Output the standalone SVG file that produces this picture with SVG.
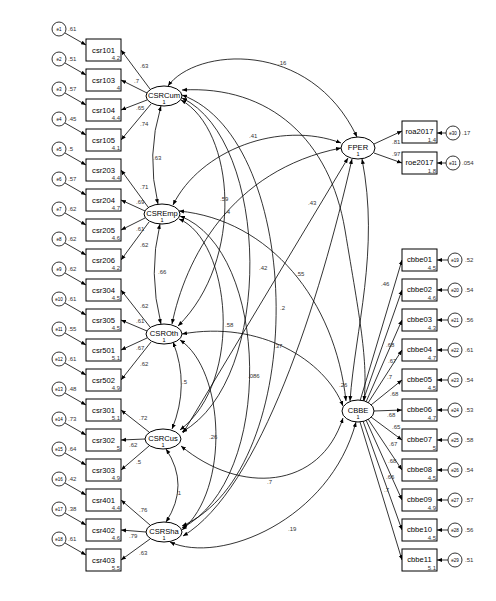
<svg xmlns="http://www.w3.org/2000/svg" width="496" height="601" viewBox="0 0 496 601">
<defs>
<marker id="ah" viewBox="0 0 10 10" refX="10" refY="5" markerWidth="5" markerHeight="5" orient="auto-start-reverse" markerUnits="userSpaceOnUse"><path d="M0,1 L10,5 L0,9 z" fill="#000"/></marker>
</defs>
<style>
.box{fill:#fff;stroke:#000;stroke-width:1}
.lat{fill:#fff;stroke:#000;stroke-width:1}
.err{fill:#fff;stroke:#000;stroke-width:0.8}
.nm{font-family:"Liberation Sans",Arial,sans-serif;font-size:7.6px;fill:#000;text-anchor:middle}
.mn{font-family:"Liberation Sans",Arial,sans-serif;font-size:6px;fill:#333;text-anchor:end}
.lb{font-family:"Liberation Sans",Arial,sans-serif;font-size:6px;fill:#333}
.es{font-family:"Liberation Sans",Arial,sans-serif;font-size:4.5px;fill:#000;text-anchor:middle}
.ln{fill:none;stroke:#000;stroke-width:0.8;marker-end:url(#ah)}
.cv{fill:none;stroke:#000;stroke-width:0.8;marker-start:url(#ah);marker-end:url(#ah)}
</style>
<rect width="496" height="601" fill="#fff"/>
<g id="connectors">
<path class="ln" d="M65,33 L86,45"/><path class="ln" d="M65,63 L86,75"/><path class="ln" d="M65,93 L86,105"/><path class="ln" d="M65,123 L86,135"/>
<path class="ln" d="M65,153 L86,165"/><path class="ln" d="M65,183 L86,195"/><path class="ln" d="M65,213 L86,225"/><path class="ln" d="M65,243 L86,255"/>
<path class="ln" d="M65,273 L86,285"/><path class="ln" d="M65,303 L86,315"/><path class="ln" d="M65,333 L86,345"/><path class="ln" d="M65,363 L86,375"/>
<path class="ln" d="M65,393 L86,405"/><path class="ln" d="M65,423 L86,435"/><path class="ln" d="M65,453 L86,465"/><path class="ln" d="M65,483 L86,495"/>
<path class="ln" d="M65,513 L86,525"/><path class="ln" d="M65,543 L86,555"/>
<path class="ln" d="M150,89 L121,50"/><path class="ln" d="M147,93 L121,80"/><path class="ln" d="M147,100 L121,110"/><path class="ln" d="M151,104 L121,140"/>
<path class="ln" d="M148,207 L121,170"/><path class="ln" d="M145,211 L121,200"/><path class="ln" d="M145,218 L121,230"/><path class="ln" d="M149,222 L121,260"/>
<path class="ln" d="M150,327 L121,290"/><path class="ln" d="M147,331 L121,320"/><path class="ln" d="M147,338 L121,350"/><path class="ln" d="M151,342 L121,380"/>
<path class="ln" d="M149,432 L121,410"/><path class="ln" d="M145,439 L121,440"/><path class="ln" d="M149,446 L121,470"/>
<path class="ln" d="M150,525 L121,500"/><path class="ln" d="M146,532 L121,530"/><path class="ln" d="M150,539 L121,560"/>
<path class="ln" d="M374,144 L402,131"/><path class="ln" d="M374,153 L402,163"/>
<path class="ln" d="M446,133 L437,133"/><path class="ln" d="M446,163 L437,163"/>
<path class="ln" d="M360,401 L402,260"/><path class="ln" d="M363,401 L402,290"/><path class="ln" d="M366,402 L402,320"/><path class="ln" d="M368,403 L402,350"/><path class="ln" d="M371,405 L402,380"/>
<path class="ln" d="M374,411 L402,410"/>
<path class="ln" d="M371,417 L402,440"/><path class="ln" d="M368,419 L402,470"/><path class="ln" d="M366,420 L402,500"/><path class="ln" d="M363,421 L402,530"/><path class="ln" d="M360,422 L402,560"/>
<path class="ln" d="M448,260 L437,260"/><path class="ln" d="M448,290 L437,290"/><path class="ln" d="M448,320 L437,320"/><path class="ln" d="M448,350 L437,350"/><path class="ln" d="M448,380 L437,380"/><path class="ln" d="M448,410 L437,410"/>
<path class="ln" d="M448,440 L437,440"/><path class="ln" d="M448,470 L437,470"/><path class="ln" d="M448,500 L437,500"/><path class="ln" d="M448,530 L437,530"/><path class="ln" d="M448,560 L437,560"/>
<!-- covariances among CSR factors -->
<path class="cv" d="M161,106 Q146,155 158,204"/>
<path class="cv" d="M160,224 Q148,273 161,324"/>
<path class="cv" d="M173,342 Q190,385 172,429"/>
<path class="cv" d="M166,449 Q190,485 166,522"/>
<path class="cv" d="M181,100 C235,130 245,260 178,326"/>
<path class="cv" d="M182,98 C270,140 275,380 182,432"/>
<path class="cv" d="M182,95 C305,140 310,470 182,526"/>
<path class="cv" d="M179,219 C230,240 245,380 180,430"/>
<path class="cv" d="M180,216 C270,250 275,480 182,528"/>
<path class="cv" d="M180,340 C225,370 230,490 182,530"/>
<!-- with FPER -->
<path class="cv" d="M168,86 C195,48 310,38 357,137"/>
<path class="cv" d="M173,205 C200,150 280,120 341,143"/>
<path class="cv" d="M172,324 C185,260 230,170 341,148"/>
<path class="cv" d="M183,433 L348,158"/>
<path class="cv" d="M183,536 C260,490 320,300 352,159"/>
<path class="cv" d="M362,159 C380,250 355,330 350,401"/>
<!-- with CBBE -->
<path class="cv" d="M182,90 C270,85 330,140 345,230 S368,360 364,401"/>
<path class="cv" d="M179,211 C270,220 335,300 346,401"/>
<path class="cv" d="M182,334 C260,320 325,360 343,406"/>
<path class="cv" d="M181,446 C240,495 320,490 343,418"/>
<path class="cv" d="M170,542 C220,565 330,520 356,422"/>
</g>
<g id="labels" class="lb">
<text x="278" y="65">.16</text><text x="249" y="138">.41</text><text x="153" y="160">.63</text><text x="220" y="201">.59</text><text x="225" y="214">.4</text>
<text x="308" y="205">.43</text><text x="259" y="270">.42</text><text x="296" y="276">.55</text><text x="280" y="310">.2</text><text x="158" y="274">.66</text>
<text x="225" y="327">.58</text><text x="274" y="348">.37</text><text x="381" y="286">.46</text><text x="182" y="384">.5</text><text x="248" y="378">.086</text>
<text x="209" y="439">.26</text><text x="339" y="387">.26</text><text x="267" y="484">.7</text><text x="176" y="495">.1</text><text x="288" y="531">.19</text>
<text x="140" y="68">.63</text><text x="134" y="83">.7</text><text x="136" y="110">.65</text><text x="140" y="126">.74</text>
<text x="140" y="189">.71</text><text x="136" y="204">.69</text><text x="136" y="231">.61</text><text x="140" y="247">.62</text>
<text x="140" y="308">.62</text><text x="136" y="323">.61</text><text x="136" y="350">.67</text><text x="140" y="366">.62</text>
<text x="139" y="420">.72</text><text x="129" y="447">.62</text><text x="136" y="464">.5</text>
<text x="139" y="512">.76</text><text x="129" y="538">.79</text><text x="139" y="555">.63</text>
<text x="392" y="144">.81</text><text x="392" y="156">.97</text>
<text x="386" y="347">.68</text><text x="388" y="363">.67</text><text x="387" y="379">.7</text><text x="390" y="396">.68</text>
<text x="387" y="417">.68</text><text x="392" y="429">.65</text><text x="389" y="446">.67</text><text x="388" y="463">.68</text><text x="386" y="479">.66</text><text x="384" y="492">.7</text>
</g>
<g id="csr101"><rect class="box" x="86" y="39" width="35" height="22"/><text class="nm" x="103.5" y="53">csr101</text><text class="mn" x="120" y="60">4.2</text></g>
<g id="csr103"><rect class="box" x="86" y="69" width="35" height="22"/><text class="nm" x="103.5" y="83">csr103</text><text class="mn" x="120" y="90">4</text></g>
<g id="csr104"><rect class="box" x="86" y="99" width="35" height="22"/><text class="nm" x="103.5" y="113">csr104</text><text class="mn" x="120" y="120">4.4</text></g>
<g id="csr105"><rect class="box" x="86" y="129" width="35" height="22"/><text class="nm" x="103.5" y="143">csr105</text><text class="mn" x="120" y="150">4.1</text></g>
<g id="csr203"><rect class="box" x="86" y="159" width="35" height="22"/><text class="nm" x="103.5" y="173">csr203</text><text class="mn" x="120" y="180">4.4</text></g>
<g id="csr204"><rect class="box" x="86" y="189" width="35" height="22"/><text class="nm" x="103.5" y="203">csr204</text><text class="mn" x="120" y="210">4.7</text></g>
<g id="csr205"><rect class="box" x="86" y="219" width="35" height="22"/><text class="nm" x="103.5" y="233">csr205</text><text class="mn" x="120" y="240">4.6</text></g>
<g id="csr206"><rect class="box" x="86" y="249" width="35" height="22"/><text class="nm" x="103.5" y="263">csr206</text><text class="mn" x="120" y="270">4.2</text></g>
<g id="csr304"><rect class="box" x="86" y="279" width="35" height="22"/><text class="nm" x="103.5" y="293">csr304</text><text class="mn" x="120" y="300">4.5</text></g>
<g id="csr305"><rect class="box" x="86" y="309" width="35" height="22"/><text class="nm" x="103.5" y="323">csr305</text><text class="mn" x="120" y="330">4.5</text></g>
<g id="csr501"><rect class="box" x="86" y="339" width="35" height="22"/><text class="nm" x="103.5" y="353">csr501</text><text class="mn" x="120" y="360">5.1</text></g>
<g id="csr502"><rect class="box" x="86" y="369" width="35" height="22"/><text class="nm" x="103.5" y="383">csr502</text><text class="mn" x="120" y="390">4.9</text></g>
<g id="csr301"><rect class="box" x="86" y="399" width="35" height="22"/><text class="nm" x="103.5" y="413">csr301</text><text class="mn" x="120" y="420">5.1</text></g>
<g id="csr302"><rect class="box" x="86" y="429" width="35" height="22"/><text class="nm" x="103.5" y="443">csr302</text><text class="mn" x="120" y="450">5</text></g>
<g id="csr303"><rect class="box" x="86" y="459" width="35" height="22"/><text class="nm" x="103.5" y="473">csr303</text><text class="mn" x="120" y="480">4.9</text></g>
<g id="csr401"><rect class="box" x="86" y="489" width="35" height="22"/><text class="nm" x="103.5" y="503">csr401</text><text class="mn" x="120" y="510">4.4</text></g>
<g id="csr402"><rect class="box" x="86" y="519" width="35" height="22"/><text class="nm" x="103.5" y="533">csr402</text><text class="mn" x="120" y="540">4.6</text></g>
<g id="csr403"><rect class="box" x="86" y="549" width="35" height="22"/><text class="nm" x="103.5" y="563">csr403</text><text class="mn" x="120" y="570">5.5</text></g>
<g id="e1"><circle class="err" cx="59" cy="29" r="7"/><text class="es" x="59" y="31">e1</text><text class="lb" x="68" y="31">.61</text></g>
<g id="e2"><circle class="err" cx="59" cy="59" r="7"/><text class="es" x="59" y="61">e2</text><text class="lb" x="68" y="61">.51</text></g>
<g id="e3"><circle class="err" cx="59" cy="89" r="7"/><text class="es" x="59" y="91">e3</text><text class="lb" x="68" y="91">.57</text></g>
<g id="e4"><circle class="err" cx="59" cy="119" r="7"/><text class="es" x="59" y="121">e4</text><text class="lb" x="68" y="121">.45</text></g>
<g id="e5"><circle class="err" cx="59" cy="149" r="7"/><text class="es" x="59" y="151">e5</text><text class="lb" x="68" y="151">.5</text></g>
<g id="e6"><circle class="err" cx="59" cy="179" r="7"/><text class="es" x="59" y="181">e6</text><text class="lb" x="68" y="181">.57</text></g>
<g id="e7"><circle class="err" cx="59" cy="209" r="7"/><text class="es" x="59" y="211">e7</text><text class="lb" x="68" y="211">.62</text></g>
<g id="e8"><circle class="err" cx="59" cy="239" r="7"/><text class="es" x="59" y="241">e8</text><text class="lb" x="68" y="241">.62</text></g>
<g id="e9"><circle class="err" cx="59" cy="269" r="7"/><text class="es" x="59" y="271">e9</text><text class="lb" x="68" y="271">.62</text></g>
<g id="e10"><circle class="err" cx="59" cy="299" r="7"/><text class="es" x="59" y="301">e10</text><text class="lb" x="68" y="301">.61</text></g>
<g id="e11"><circle class="err" cx="59" cy="329" r="7"/><text class="es" x="59" y="331">e11</text><text class="lb" x="68" y="331">.55</text></g>
<g id="e12"><circle class="err" cx="59" cy="359" r="7"/><text class="es" x="59" y="361">e12</text><text class="lb" x="68" y="361">.61</text></g>
<g id="e13"><circle class="err" cx="59" cy="389" r="7"/><text class="es" x="59" y="391">e13</text><text class="lb" x="68" y="391">.48</text></g>
<g id="e14"><circle class="err" cx="59" cy="419" r="7"/><text class="es" x="59" y="421">e14</text><text class="lb" x="68" y="421">.73</text></g>
<g id="e15"><circle class="err" cx="59" cy="449" r="7"/><text class="es" x="59" y="451">e15</text><text class="lb" x="68" y="451">.64</text></g>
<g id="e16"><circle class="err" cx="59" cy="479" r="7"/><text class="es" x="59" y="481">e16</text><text class="lb" x="68" y="481">.42</text></g>
<g id="e17"><circle class="err" cx="59" cy="509" r="7"/><text class="es" x="59" y="511">e17</text><text class="lb" x="68" y="511">.38</text></g>
<g id="e18"><circle class="err" cx="59" cy="539" r="7"/><text class="es" x="59" y="541">e18</text><text class="lb" x="68" y="541">.61</text></g>
<g id="CSRCum"><ellipse class="lat" cx="164" cy="96" rx="18" ry="10"/><text class="nm" x="164" y="98">CSRCum</text><text class="nm" style="font-size:5.5px" x="164" y="104">1</text></g>
<g id="CSREmp"><ellipse class="lat" cx="162" cy="214" rx="18" ry="10"/><text class="nm" x="162" y="216">CSREmp</text><text class="nm" style="font-size:5.5px" x="162" y="222">1</text></g>
<g id="CSROth"><ellipse class="lat" cx="164" cy="334" rx="18" ry="10"/><text class="nm" x="164" y="336">CSROth</text><text class="nm" style="font-size:5.5px" x="164" y="342">1</text></g>
<g id="CSRCus"><ellipse class="lat" cx="163" cy="439" rx="18" ry="10"/><text class="nm" x="163" y="441">CSRCus</text><text class="nm" style="font-size:5.5px" x="163" y="447">1</text></g>
<g id="CSRSha"><ellipse class="lat" cx="164" cy="532" rx="18" ry="10"/><text class="nm" x="164" y="534">CSRSha</text><text class="nm" style="font-size:5.5px" x="164" y="540">1</text></g>
<g id="FPER"><ellipse class="lat" cx="358" cy="148" rx="17" ry="11"/><text class="nm" x="358" y="150">FPER</text><text class="nm" style="font-size:5.5px" x="358" y="156">1</text></g>
<g id="CBBE"><ellipse class="lat" cx="358" cy="411" rx="16" ry="11"/><text class="nm" x="358" y="413">CBBE</text><text class="nm" style="font-size:5.5px" x="358" y="419">1</text></g>
<g id="roa2017"><rect class="box" x="402" y="121" width="35" height="22"/><text class="nm" x="419.5" y="134">roa2017</text><text class="mn" x="436" y="142">1.4</text></g>
<g id="roe2017"><rect class="box" x="402" y="152" width="35" height="22"/><text class="nm" x="419.5" y="165">roe2017</text><text class="mn" x="436" y="173">1.8</text></g>
<g id="e30"><circle class="err" cx="453" cy="133" r="7"/><text class="es" x="453" y="135">e30</text><text class="lb" x="462" y="135">.17</text></g>
<g id="e31"><circle class="err" cx="453" cy="163" r="7"/><text class="es" x="453" y="165">e31</text><text class="lb" x="462" y="165">.054</text></g>
<g id="cbbe01"><rect class="box" x="402" y="249" width="35" height="22"/><text class="nm" x="419.5" y="262">cbbe01</text><text class="mn" x="436" y="270">4.5</text></g>
<g id="cbbe02"><rect class="box" x="402" y="279" width="35" height="22"/><text class="nm" x="419.5" y="292">cbbe02</text><text class="mn" x="436" y="300">4.6</text></g>
<g id="cbbe03"><rect class="box" x="402" y="309" width="35" height="22"/><text class="nm" x="419.5" y="322">cbbe03</text><text class="mn" x="436" y="330">4.3</text></g>
<g id="cbbe04"><rect class="box" x="402" y="339" width="35" height="22"/><text class="nm" x="419.5" y="352">cbbe04</text><text class="mn" x="436" y="360">4.7</text></g>
<g id="cbbe05"><rect class="box" x="402" y="369" width="35" height="22"/><text class="nm" x="419.5" y="382">cbbe05</text><text class="mn" x="436" y="390">4.5</text></g>
<g id="cbbe06"><rect class="box" x="402" y="399" width="35" height="22"/><text class="nm" x="419.5" y="412">cbbe06</text><text class="mn" x="436" y="420">4.7</text></g>
<g id="cbbe07"><rect class="box" x="402" y="429" width="35" height="22"/><text class="nm" x="419.5" y="442">cbbe07</text><text class="mn" x="436" y="450">5</text></g>
<g id="cbbe08"><rect class="box" x="402" y="459" width="35" height="22"/><text class="nm" x="419.5" y="472">cbbe08</text><text class="mn" x="436" y="480">4.5</text></g>
<g id="cbbe09"><rect class="box" x="402" y="489" width="35" height="22"/><text class="nm" x="419.5" y="502">cbbe09</text><text class="mn" x="436" y="510">4.9</text></g>
<g id="cbbe10"><rect class="box" x="402" y="519" width="35" height="22"/><text class="nm" x="419.5" y="532">cbbe10</text><text class="mn" x="436" y="540">4.5</text></g>
<g id="cbbe11"><rect class="box" x="402" y="549" width="35" height="22"/><text class="nm" x="419.5" y="562">cbbe11</text><text class="mn" x="436" y="570">5.1</text></g>
<g id="e19"><circle class="err" cx="455" cy="260" r="7"/><text class="es" x="455" y="262">e19</text><text class="lb" x="465" y="262">.52</text></g>
<g id="e20"><circle class="err" cx="455" cy="290" r="7"/><text class="es" x="455" y="292">e20</text><text class="lb" x="465" y="292">.54</text></g>
<g id="e21"><circle class="err" cx="455" cy="320" r="7"/><text class="es" x="455" y="322">e21</text><text class="lb" x="465" y="322">.56</text></g>
<g id="e22"><circle class="err" cx="455" cy="350" r="7"/><text class="es" x="455" y="352">e22</text><text class="lb" x="465" y="352">.61</text></g>
<g id="e23"><circle class="err" cx="455" cy="380" r="7"/><text class="es" x="455" y="382">e23</text><text class="lb" x="465" y="382">.54</text></g>
<g id="e24"><circle class="err" cx="455" cy="410" r="7"/><text class="es" x="455" y="412">e24</text><text class="lb" x="465" y="412">.53</text></g>
<g id="e25"><circle class="err" cx="455" cy="440" r="7"/><text class="es" x="455" y="442">e25</text><text class="lb" x="465" y="442">.58</text></g>
<g id="e26"><circle class="err" cx="455" cy="470" r="7"/><text class="es" x="455" y="472">e26</text><text class="lb" x="465" y="472">.54</text></g>
<g id="e27"><circle class="err" cx="455" cy="500" r="7"/><text class="es" x="455" y="502">e27</text><text class="lb" x="465" y="502">.57</text></g>
<g id="e28"><circle class="err" cx="455" cy="530" r="7"/><text class="es" x="455" y="532">e28</text><text class="lb" x="465" y="532">.56</text></g>
<g id="e29"><circle class="err" cx="455" cy="560" r="7"/><text class="es" x="455" y="562">e29</text><text class="lb" x="465" y="562">.51</text></g>
</svg>
